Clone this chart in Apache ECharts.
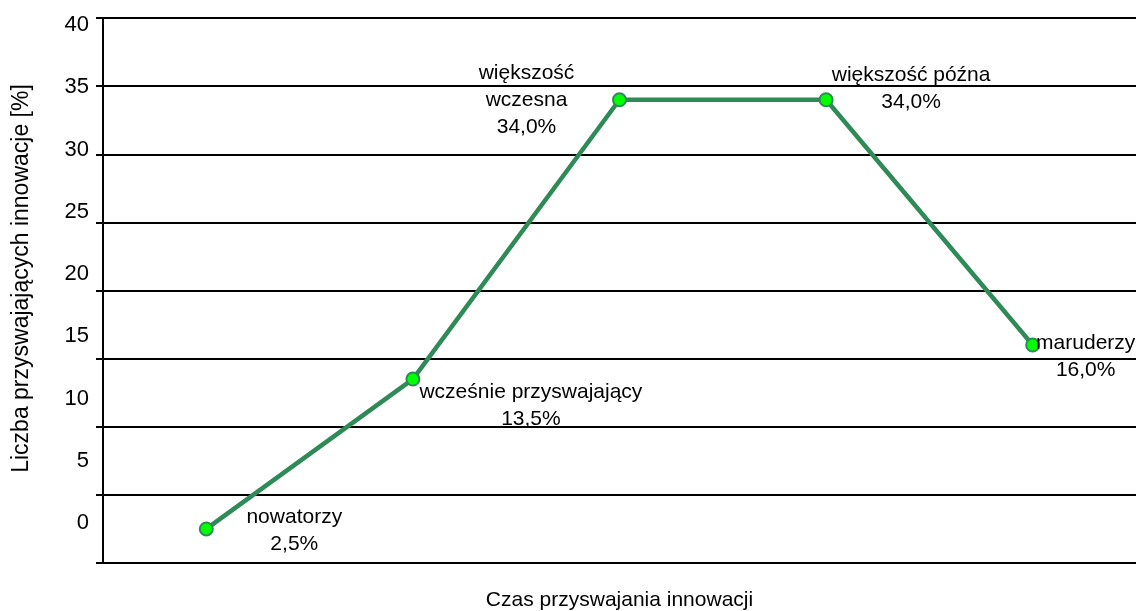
<!DOCTYPE html>
<html><head><meta charset="utf-8">
<script src="https://cdn.jsdelivr.net/npm/echarts@6/dist/echarts.min.js"></script>
<style>html,body{margin:0;padding:0;background:#fff}#c{width:1136px;height:611px}</style>
</head><body><div id="c"></div>
<script>
// ---- data ----
const categories = ['nowatorzy', 'wcześnie przyswajający', 'większość\nwczesna', 'większość późna', 'maruderzy'];
const values = [2.5, 13.5, 34.0, 34.0, 16.0];
const yTickLabels = [0, 5, 10, 15, 20, 25, 30, 35, 40];
const xTitle = 'Czas przyswajania innowacji';
const yTitle = 'Liczba przyswajających innowacje [%]';

// ---- presentation ----
const FONT = "'Liberation Sans', Arial, sans-serif";
const labelOffsets = [[88, 2], [118, 27], [-93, 0], [85, -11], [53, 12]];
const black = '#000';

const chart = echarts.init(document.getElementById('c'), null, {renderer: 'canvas'});
chart.setOption({
  animation: false,
  backgroundColor: '#fff',
  textStyle: {fontFamily: FONT, color: black},
  grid: {left: 103, right: 0, top: 18, bottom: 48, containLabel: false, outerBoundsMode: 'none'},
  xAxis: {
    type: 'category',
    data: categories,
    boundaryGap: true,
    axisLine: {show: true, lineStyle: {color: black, width: 2}},
    axisTick: {show: false},
    axisLabel: {show: false},
    splitLine: {show: false},
    name: xTitle,
    nameLocation: 'middle',
    nameGap: 27,
    nameTextStyle: {fontSize: 21, color: black, fontFamily: FONT}
  },
  yAxis: [{
    type: 'value',
    min: 0, max: 40, interval: 5,
    position: 'left',
    axisLine: {show: true, lineStyle: {color: black, width: 2}},
    axisTick: {show: true, length: 7, lineStyle: {color: black, width: 2}},
    axisLabel: {show: false},
    splitLine: {show: true, lineStyle: {color: black, width: 2}},
    name: yTitle,
    nameLocation: 'middle',
    nameRotate: 90,
    nameGap: 70,
    nameTextStyle: {fontSize: 23, color: black, fontFamily: FONT, padding: [0, 0, 0, 24]}
  }, {
    type: 'value',
    min: -3.2128, max: 40.562,
    position: 'left',
    offset: 0,
    axisLine: {show: false},
    axisTick: {show: false, customValues: yTickLabels},
    splitLine: {show: false},
    axisLabel: {show: true, customValues: yTickLabels, margin: 14, fontSize: 22, color: black, fontFamily: FONT}
  }],
  series: [{
    type: 'line',
    yAxisIndex: 0,
    data: values.map((v, i) => ({
      value: v,
      label: {offset: labelOffsets[i]}
    })),
    lineStyle: {color: '#2e8b57', width: 4.5},
    symbol: 'circle',
    symbolSize: 13,
    itemStyle: {color: '#00ff00', borderColor: '#2e8b57', borderWidth: 2},
    label: {
      show: true,
      position: 'inside',
      align: 'center',
      verticalAlign: 'middle',
      fontSize: 21,
      lineHeight: 27,
      color: black,
      fontFamily: FONT,
      formatter: p => p.name + '\n' + p.value.toFixed(1).replace('.', ',') + '%'
    },
    emphasis: {disabled: true}
  }]
});
</script>
</body></html>
